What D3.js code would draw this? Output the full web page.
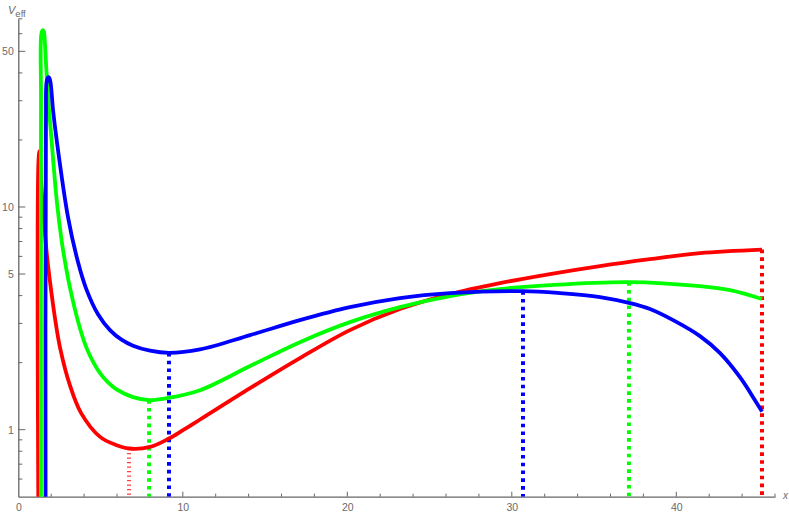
<!DOCTYPE html>
<html><head><meta charset="utf-8">
<script src="https://cdn.jsdelivr.net/npm/d3@7"></script>
<style>body{margin:0;background:#fff}svg{display:block}text{font-family:"Liberation Sans",Arial,sans-serif}</style>
</head><body><svg id="c" width="789" height="513"></svg>
<script>
// ---- data ----
const redX  = [1.23,1.23,1.29,1.38,1.56,1.74,1.93,2.23,2.53,3.14,3.81,4.97,5.98,6.73,8.01,9.16,10.01,11.05,14.09,17.12,20.16,23.2,26.24,29.28,32.32,35.36,38.4,41.44,45.21];
const redV  = [0.3,16.2,17.8,13.2,8.73,6.08,4.6,3.17,2.35,1.58,1.19,0.928,0.852,0.823,0.837,0.913,0.995,1.111,1.536,2.096,2.80,3.48,4.06,4.55,5.0,5.43,5.83,6.21,6.44];
const greenX = [1.38,1.38,1.41,1.50,1.56,1.623,1.714,1.836,2.018,2.353,2.657,2.93,3.173,3.629,4.116,4.541,4.967,5.453,5.993,6.973,7.95,9.04,11.05,14.09,17.12,20.16,23.2,26.24,29.28,32.32,37.12,41.44,43.27,45.21];
const greenV = [0.3,30.2,60.4,62.3,61,53.4,40.4,29.3,20.1,10.41,6.88,5.21,4.23,3.07,2.36,2.021,1.794,1.63,1.512,1.40,1.357,1.385,1.504,1.93,2.472,3.04,3.55,3.98,4.28,4.46,4.60,4.41,4.23,3.86];
const blueX = [1.66,1.68,1.74,1.84,1.93,2.11,2.31,3.021,3.629,4.134,4.845,5.574,6.274,6.973,8.006,9.161,11.05,14.09,17.12,20.16,23.2,26.24,30.68,32.93,35.36,37.19,38.4,39.92,41.44,42.66,43.87,44.78,45.21];
const blueV = [0.3,24.6,37.2,38.3,37.2,27.3,20.6,9.01,5.66,4.28,3.30,2.80,2.537,2.384,2.264,2.213,2.293,2.658,3.104,3.55,3.90,4.105,4.19,4.105,3.94,3.70,3.48,3.07,2.63,2.207,1.721,1.357,1.205];
// extrema marked by dotted drop lines
const redExtX = [6.73,45.21],  redExtV = [0.823,6.44];
const greenExtX = [7.95,37.12], greenExtV = [1.357,4.60];
const blueExtX = [9.16,30.68], blueExtV = [2.213,4.19];
// ticks
const xMajor = [0,10,20,30,40];
const xMinor = [2,4,6,8,12,14,16,18,22,24,26,28,32,34,36,38,42,44,46];
const yMajor = [1,5,10,50];
const yMinor = [0.6,0.7,0.8,0.9,2,3,4,6,7,8,9,20,30,40,60,70];

const svg = d3.select("#c");
const x = d3.scaleLinear().domain([0,46]).range([18.3,775]);
const y = d3.scaleLog().domain([0.5,70]).range([496.7,18.8]);
const axisCol = "#666";

svg.append("defs").append("clipPath").attr("id","clip").append("rect")
  .attr("x",x(0)).attr("y",y(70)-2).attr("width",x(46)-x(0)).attr("height",y(0.5)-y(70)+2);

// axes
const gx = svg.append("g").attr("transform",`translate(0,${y(0.5)})`);
gx.call(d3.axisBottom(x).tickValues(xMajor).tickSize(0).tickPadding(7).tickFormat(d3.format("d")));
gx.select(".domain").attr("stroke",axisCol).attr("stroke-width",1.3);
gx.selectAll("text").attr("fill","#6a6a6a").attr("font-size",10.5);
gx.selectAll(".maj").data(xMajor.filter(d=>d>0)).join("line").attr("x1",d=>x(d)).attr("x2",d=>x(d)).attr("y1",0).attr("y2",-5).attr("stroke",axisCol);
gx.selectAll(".min").data(xMinor).join("line").attr("x1",d=>x(d)).attr("x2",d=>x(d)).attr("y1",0).attr("y2",-3).attr("stroke",axisCol);

const gy = svg.append("g").attr("transform",`translate(${x(0)},0)`);
gy.call(d3.axisLeft(y).tickValues(yMajor).tickSize(0).tickPadding(4.5).tickFormat(d3.format("d")));
gy.select(".domain").attr("stroke",axisCol).attr("stroke-width",1.3);
gy.selectAll("text").attr("fill","#6a6a6a").attr("font-size",10.5);
gy.selectAll(".maj").data(yMajor).join("line").attr("y1",d=>y(d)).attr("y2",d=>y(d)).attr("x1",0).attr("x2",7).attr("stroke",axisCol);
gy.selectAll(".min").data(yMinor).join("line").attr("y1",d=>y(d)).attr("y2",d=>y(d)).attr("x1",0).attr("x2",4).attr("stroke",axisCol);

// labels
const lab = svg.append("text").attr("x",8).attr("y",14).attr("fill","#6a6a6a").attr("font-size",11);
lab.append("tspan").attr("font-style","italic").text("V");
lab.append("tspan").attr("dy",3).attr("font-size",9.5).text("eff");
svg.append("text").attr("x",783).attr("y",499).attr("fill","#6a6a6a").attr("font-size",10).attr("font-style","italic").text("x");

// curves
const series = [
  {c:"#ff0000", X:redX, V:redV, eX:redExtX, eV:redExtV},
  {c:"#00ff00", X:greenX, V:greenV, eX:greenExtX, eV:greenExtV},
  {c:"#0000ff", X:blueX, V:blueV, eX:blueExtX, eV:blueExtV}
];
const line = d3.line().x(d=>x(d[0])).y(d=>y(d[1])).curve(d3.curveCatmullRom.alpha(0.5));
const plot = svg.append("g").attr("clip-path","url(#clip)");
// dotted drop lines
series.forEach((s,si)=>{
  s.eX.forEach((ex,i)=>{
    const thin = (si===0 && i===0);
    plot.append("line").attr("x1",x(ex)).attr("x2",x(ex)).attr("y1",y(s.eV[i])).attr("y2",y(0.5))
      .attr("stroke",s.c).attr("stroke-width",4)
      .attr("stroke-dasharray", thin? "1.3 3.2" : "3.6 4.2")
      .attr("opacity", thin?0.75:1);
  });
});
series.forEach(s=>{
  plot.append("path").attr("d",line(s.X.map((d,i)=>[d,s.V[i]]))).attr("fill","none")
    .attr("stroke",s.c).attr("stroke-width",3.8).attr("stroke-linejoin","round");
});
</script></body></html>
